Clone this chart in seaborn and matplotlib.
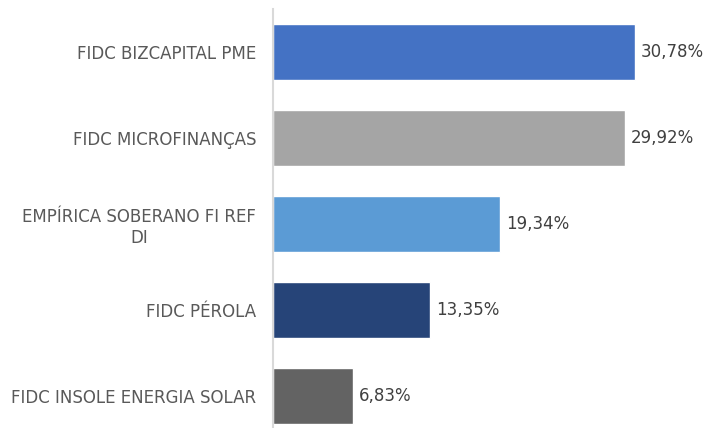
import matplotlib.pyplot as plt
import seaborn as sns
import pandas as pd

sns.set_style("white")
plt.rcParams['font.family'] = ['DejaVu Sans']

fundos = ['FIDC BIZCAPITAL PME', 'FIDC MICROFINANÇAS', 'EMPÍRICA SOBERANO FI REF\nDI',
          'FIDC PÉROLA', 'FIDC INSOLE ENERGIA SOLAR']
pct = [30.78, 29.92, 19.34, 13.35, 6.83]
cores = ['#4472C4', '#A5A5A5', '#5B9BD5', '#264478', '#636363']
df = pd.DataFrame({'Fundo': fundos, 'Pct': pct})

fig = plt.figure(figsize=(7.07, 4.28), dpi=100)
ax = fig.add_axes([273 / 707, 0, 427 / 707, 419 / 428])
sns.barplot(data=df, y='Fundo', x='Pct', hue='Fundo', palette=cores, legend=False,
            orient='h', width=0.64, saturation=1, ax=ax)

for i, v in enumerate(pct):
    ax.text(v + 0.5, i, f"{v:.2f}%".replace('.', ','), va='center', ha='left',
            fontsize=12, color='#404040')

ax.set_xlim(0, 36.3)
ax.set_ylim(4.372, -0.5)
ax.set_xlabel('')
ax.set_ylabel('')
ax.set_xticks([])
for s in ['top', 'right', 'bottom']:
    ax.spines[s].set_visible(False)
ax.spines['left'].set_color('#D9D9D9')
ax.spines['left'].set_linewidth(1.5)
ax.tick_params(axis='y', length=0, pad=12, labelsize=12, labelcolor='#595959')
for lbl in ax.get_yticklabels():
    lbl.set_multialignment('center')

fig.savefig('out.png', dpi=100)
